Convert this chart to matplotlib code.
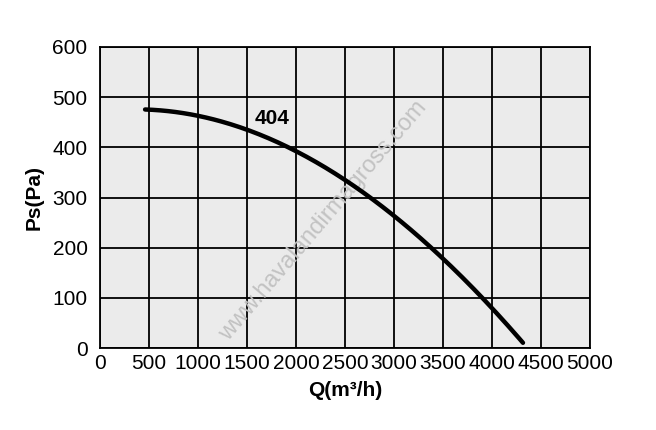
import matplotlib
matplotlib.use("Agg")
import matplotlib.pyplot as plt
import numpy as np

plt.rcParams['font.family'] = ['Liberation Sans', 'DejaVu Sans']

flow = [460, 500, 1000, 1500, 2000, 2500, 3000, 3500, 4000, 4316]
pressure = [476, 475, 462, 434, 395, 335, 261, 179, 80, 10]
x_ticks = [0, 500, 1000, 1500, 2000, 2500, 3000, 3500, 4000, 4500, 5000]
y_ticks = [0, 100, 200, 300, 400, 500, 600]
curve_label = "404"
watermark = "www.havalandirmagross.com"

fig = plt.figure(figsize=(6.56, 4.30), dpi=100)
ax = fig.add_axes([100/656, 1-348/430, 490/656, 301/430])
ax.set_facecolor('#ebebeb')

# smooth curve through read points
xs = np.linspace(flow[0], flow[-1], 200)
coef = np.polyfit(flow, pressure, 3)
ax.plot(xs, np.polyval(coef, xs), color='black', lw=3.2, solid_capstyle='round', zorder=3)

ax.set_xlim(0, 5000)
ax.set_ylim(0, 600)
ax.set_xticks(x_ticks)
ax.set_yticks(y_ticks)
ax.grid(True, color='black', lw=1.3)
ax.set_axisbelow(True)
for s in ax.spines.values():
    s.set_color('black')
    s.set_linewidth(1.3)
ax.tick_params(axis='x', length=0, labelsize=15, pad=4)
ax.tick_params(axis='y', length=0, labelsize=15, pad=9)
ax.set_xlabel("Q(m³/h)", fontsize=15, fontweight='bold', labelpad=6)
ax.set_ylabel("Ps(Pa)", fontsize=15, fontweight='bold', labelpad=6)

ax.text(1755, 458, curve_label, fontsize=15, fontweight='bold', ha='center', va='center', zorder=4)
ax.text(2276, 253, watermark, fontsize=17, color='#c2c2c2', rotation=49.6, ha='center', va='center',
        rotation_mode='anchor', zorder=2)

fig.savefig("out.png", dpi=100)
